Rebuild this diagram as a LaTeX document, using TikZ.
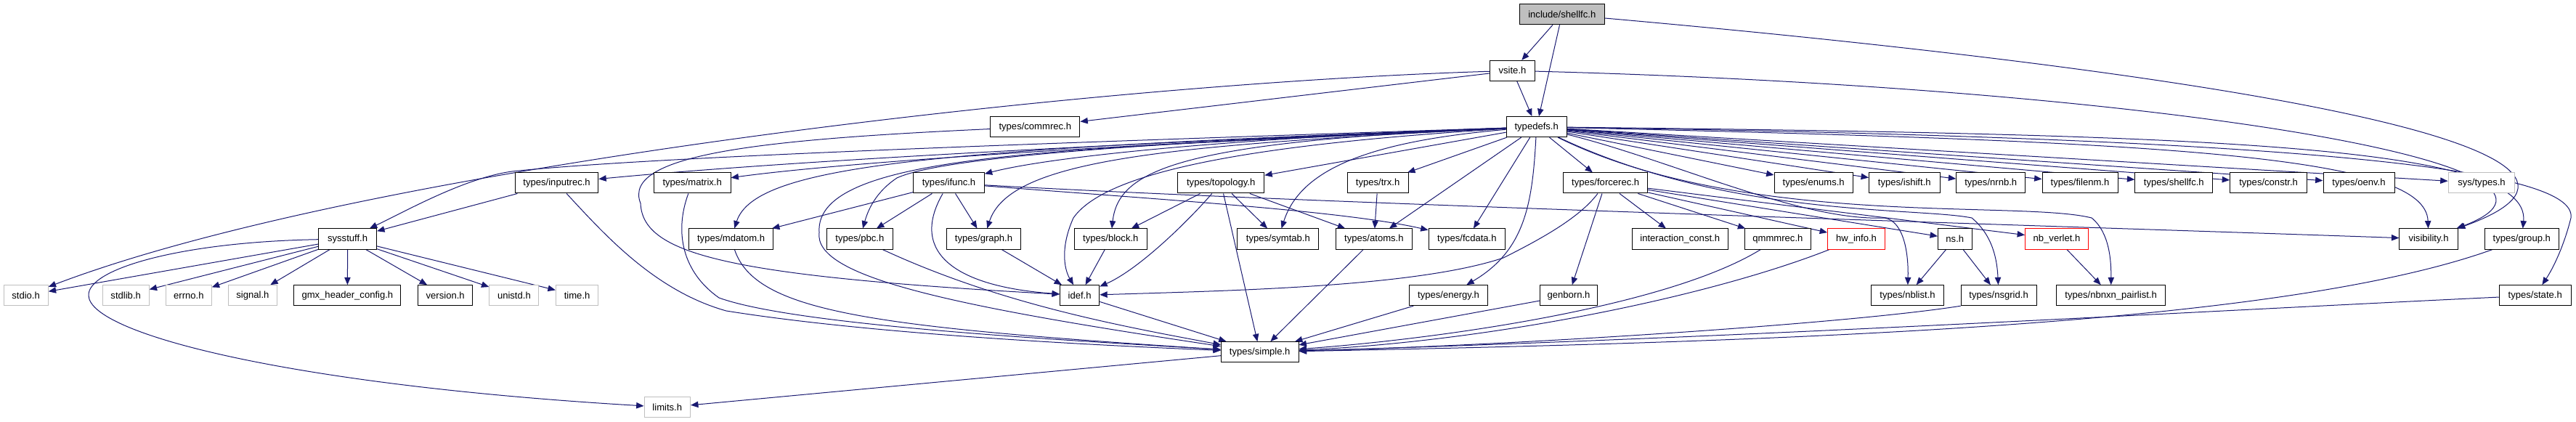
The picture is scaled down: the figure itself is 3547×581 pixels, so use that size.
\documentclass[tikz,border=0pt]{standalone}
\usepackage{fontspec}
\setmainfont{Liberation Sans}
\usetikzlibrary{arrows.meta}
\definecolor{edgeblue}{RGB}{25,25,112}
\definecolor{graybd}{RGB}{191,191,191}
\definecolor{rootfill}{RGB}{191,191,191}
\pgfdeclarelayer{bg}
\pgfsetlayers{bg,main}
\begin{document}
\begin{tikzpicture}[x=0.25mm,y=-0.25mm,
  nd/.style={draw=black, line width=0.25mm, fill=white, minimum height=7mm, inner xsep=0pt, inner ysep=0pt, font=\fontsize{9.3pt}{11pt}\selectfont, text=black},
  grn/.style={nd, draw=graybd},
  rdn/.style={nd, draw=red},
  rootnd/.style={nd, fill=rootfill},
  wd/.style={minimum width=#1*0.25mm},
  conn/.style={draw=edgeblue, line width=0.25mm, -{Triangle[length=2.6mm,width=2.1mm]}}]
\useasboundingbox (0,0) rectangle (3547,581);
% row 1-3
\node[rootnd,wd=116.4] (inc) at (2150.8,19.8) {include/shellfc.h};
\node[nd,wd=61.6] (vsite) at (2082.5,97.3) {vsite.h};
\node[nd,wd=83.1] (typedefs) at (2115.7,174.7) {typedefs.h};
\node[nd,wd=123.2] (commrec) at (1425.3,174.7) {types/commrec.h};
% row 4
\node[nd,wd=114.4] (inputrec) at (766.6,252) {types/inputrec.h};
\node[nd,wd=105.6] (matrix) at (953.2,252) {types/matrix.h};
\node[nd,wd=97.6] (ifunc) at (1306.5,252) {types/ifunc.h};
\node[nd,wd=119.1] (topology) at (1681.2,252) {types/topology.h};
\node[nd,wd=84.2] (trx) at (1897.1,252) {types/trx.h};
\node[nd,wd=116] (forcerec) at (2210.7,252) {types/forcerec.h};
\node[nd,wd=108.4] (enums) at (2497.2,252) {types/enums.h};
\node[nd,wd=97.6] (ishift) at (2622.3,252) {types/ishift.h};
\node[nd,wd=94.9] (nrnb) at (2741.2,252) {types/nrnb.h};
\node[nd,wd=104] (filenm) at (2864,252) {types/filenm.h};
\node[nd,wd=107] (shellfct) at (2993.3,252) {types/shellfc.h};
\node[nd,wd=106] (constr) at (3123.6,252) {types/constr.h};
\node[nd,wd=98] (oenv) at (3248,252) {types/oenv.h};
\node[grn,wd=91.8] (systypes) at (3417,252) {sys/types.h};
% row 5
\node[nd,wd=80] (sysstuff) at (478.6,329) {sysstuff.h};
\node[nd,wd=116] (mdatom) at (1006.6,329) {types/mdatom.h};
\node[nd,wd=91] (pbc) at (1183.9,329) {types/pbc.h};
\node[nd,wd=101.8] (graph) at (1354.5,329) {types/graph.h};
\node[nd,wd=99.9] (block) at (1529.3,329) {types/block.h};
\node[nd,wd=112] (symtab) at (1759.9,329) {types/symtab.h};
\node[nd,wd=105.2] (atoms) at (1891.9,329) {types/atoms.h};
\node[nd,wd=105.7] (fcdata) at (2019.9,329) {types/fcdata.h};
\node[nd,wd=131.9] (interconst) at (2313.2,329) {interaction\_const.h};
\node[nd,wd=90.7] (qmmmrec) at (2447.9,329) {qmmmrec.h};
\node[rdn,wd=78.9] (hwinfo) at (2556,329) {hw\_info.h};
\node[nd,wd=46.6] (ns) at (2691.8,329) {ns.h};
\node[rdn,wd=86.9] (nbverlet) at (2832,329) {nb\_verlet.h};
\node[nd,wd=80.3] (visibility) at (3344,329) {visibility.h};
\node[nd,wd=101.7] (group) at (3472.3,329) {types/group.h};
% row 6
\node[grn,wd=61.2] (stdio) at (35.6,406.7) {stdio.h};
\node[grn,wd=63.9] (stdlib) at (173.2,406.7) {stdlib.h};
\node[grn,wd=62.7] (errno) at (259.9,406.7) {errno.h};
\node[grn,wd=66.6] (signal) at (347.9,406.7) {signal.h};
\node[nd,wd=147] (gmxhc) at (478.4,406.7) {gmx\_header\_config.h};
\node[nd,wd=74.5] (version) at (613.2,406.7) {version.h};
\node[grn,wd=68.1] (unistd) at (707.9,406.7) {unistd.h};
\node[grn,wd=58.5] (time) at (794.6,406.7) {time.h};
\node[nd,wd=54.3] (idef) at (1486.6,406.7) {idef.h};
\node[nd,wd=108.3] (energy) at (1994.5,406.7) {types/energy.h};
\node[nd,wd=78.8] (genborn) at (2160,406.7) {genborn.h};
\node[nd,wd=99.9] (nblist) at (2626.5,406.7) {types/nblist.h};
\node[nd,wd=103.8] (nsgrid) at (2752.1,406.7) {types/nsgrid.h};
\node[nd,wd=149.3] (pairlist) at (2906.6,406.7) {types/nbnxn\_pairlist.h};
\node[nd,wd=99] (state) at (3490.7,406.7) {types/state.h};
% row 7-8
\node[nd,wd=106.7] (simple) at (1734.7,484.7) {types/simple.h};
\node[grn,wd=63.5] (limits) at (918.8,560.8) {limits.h};

\begin{pgfonlayer}{bg}
% include/shellfc.h
\draw[conn] (inc) -- (vsite);
\draw[conn] (inc) -- (typedefs);
\draw[conn] (inc) .. controls (3000,95) and (3700,200) .. (visibility);
% vsite.h
\draw[conn] (vsite) -- (typedefs);
\draw[conn] (vsite) .. controls (1500,115) and (500,230) .. (stdio);
\draw[conn] (vsite) -- (commrec);
\draw[conn] (vsite) .. controls (2950,120) and (3620,225) .. (visibility);
% commrec
\draw[conn] (commrec) .. controls (1050,192) and (855,212) .. (882,280) .. controls (885,350) and (1000,380) .. (idef);
% typedefs.h
\draw[conn] (typedefs) .. controls (1500,195) and (900,215) .. (705,236) .. controls (640,245) and (560,290) .. (sysstuff);
\draw[conn] (typedefs) .. controls (1600,195) and (1100,220) .. (inputrec);
\draw[conn] (typedefs) .. controls (1500,200) and (1150,225) .. (matrix);
\draw[conn] (typedefs) .. controls (1300,205) and (1040,225) .. (mdatom);
\draw[conn] (typedefs) .. controls (1600,195) and (1300,215) .. (1235,245) .. controls (1205,265) and (1195,290) .. (pbc);
\draw[conn] (typedefs) .. controls (1700,190) and (1450,215) .. (ifunc);
\draw[conn] (typedefs) .. controls (1600,200) and (1390,220) .. (graph);
\draw[conn] (typedefs) .. controls (1620,195) and (1540,235) .. (block);
\draw[conn] (typedefs) .. controls (1700,200) and (1520,240) .. (1478,300) .. controls (1460,340) and (1465,370) .. (idef);
\draw[conn] (typedefs) .. controls (1500,205) and (1120,205) .. (1128,320) .. controls (1120,380) and (1300,420) .. (simple);
\draw[conn] (typedefs) -- (topology);
\draw[conn] (typedefs) -- (trx);
\draw[conn] (typedefs) .. controls (1880,195) and (1790,235) .. (symtab);
\draw[conn] (typedefs) -- (atoms);
\draw[conn] (typedefs) -- (fcdata);
\draw[conn] (typedefs) .. controls (2110,280) and (2100,345) .. (energy);
\draw[conn] (typedefs) -- (forcerec);
\draw[conn] (typedefs) -- (enums);
\draw[conn] (typedefs) -- (ishift);
\draw[conn] (typedefs) -- (nrnb);
\draw[conn] (typedefs) -- (filenm);
\draw[conn] (typedefs) -- (shellfct);
\draw[conn] (typedefs) -- (constr);
\draw[conn] (typedefs) -- (oenv);
\draw[conn] (typedefs) -- (systypes);
\draw[conn] (typedefs) .. controls (3000,195) and (3340,215) .. (visibility);
\draw[conn] (typedefs) .. controls (3050,185) and (3485,200) .. (group);
\draw[conn] (typedefs) .. controls (3150,190) and (3550,230) .. (3540,300) .. controls (3530,340) and (3515,370) .. (state);
\draw[conn] (typedefs) .. controls (2300,220) and (2480,305) .. (2595,300) .. controls (2622,305) and (2628,350) .. (nblist);
\draw[conn] (typedefs) .. controls (2380,300) and (2640,285) .. (2715,300) .. controls (2745,325) and (2750,360) .. (nsgrid);
\draw[conn] (typedefs) .. controls (2400,315) and (2780,275) .. (2880,300) .. controls (2905,320) and (2907,360) .. (pairlist);
% sysstuff.h
\draw[conn] (sysstuff) -- (stdio);
\draw[conn] (sysstuff) -- (stdlib);
\draw[conn] (sysstuff) -- (errno);
\draw[conn] (sysstuff) -- (signal);
\draw[conn] (sysstuff) -- (gmxhc);
\draw[conn] (sysstuff) -- (version);
\draw[conn] (sysstuff) -- (unistd);
\draw[conn] (sysstuff) -- (time);
\draw[conn] (sysstuff) .. controls (250,333) and (120,370) .. (122,407) .. controls (124,460) and (400,530) .. (limits);
% row 4 sources
\draw[conn] (inputrec) -- (sysstuff);
\draw[conn] (inputrec) .. controls (830,320) and (900,400) .. (1000,428) .. controls (1200,460) and (1500,475) .. (simple);
\draw[conn] (matrix) .. controls (928,320) and (940,375) .. (990,410) .. controls (1100,450) and (1500,470) .. (simple);
\draw[conn] (ifunc) -- (mdatom);
\draw[conn] (ifunc) -- (pbc);
\draw[conn] (ifunc) .. controls (1250,350) and (1320,395) .. (idef);
\draw[conn] (ifunc) -- (graph);
\draw[conn] (ifunc) .. controls (1600,275) and (1850,290) .. (fcdata);
\draw[conn] (ifunc) .. controls (1800,280) and (2800,310) .. (visibility);
\draw[conn] (topology) -- (block);
\draw[conn] (topology) .. controls (1640,300) and (1570,370) .. (idef);
\draw[conn] (topology) -- (simple);
\draw[conn] (topology) -- (symtab);
\draw[conn] (topology) -- (atoms);
\draw[conn] (trx) -- (atoms);
\draw[conn] (forcerec) -- (genborn);
\draw[conn] (forcerec) .. controls (2175,300) and (2120,330) .. (2070,355) .. controls (1950,395) and (1700,400) .. (idef);
\draw[conn] (forcerec) -- (interconst);
\draw[conn] (forcerec) -- (qmmmrec);
\draw[conn] (forcerec) -- (hwinfo);
\draw[conn] (forcerec) -- (ns);
\draw[conn] (forcerec) -- (nbverlet);
% row 5 sources
\draw[conn] (mdatom) .. controls (1040,430) and (1200,450) .. (simple);
\draw[conn] (pbc) .. controls (1380,420) and (1550,450) .. (simple);
\draw[conn] (graph) -- (idef);
\draw[conn] (block) -- (idef);
\draw[conn] (atoms) -- (simple);
\draw[conn] (qmmmrec) .. controls (2300,420) and (2000,465) .. (simple);
\draw[conn] (hwinfo) .. controls (2350,410) and (2050,470) .. (simple);
\draw[conn] (ns) -- (nblist);
\draw[conn] (ns) -- (nsgrid);
\draw[conn] (nbverlet) -- (pairlist);
\draw[conn] (group) .. controls (3150,445) and (2500,470) .. (simple);
% row 6 sources
\draw[conn] (idef) -- (simple);
\draw[conn] (energy) -- (simple);
\draw[conn] (genborn) -- (simple);
\draw[conn] (nsgrid.south west) .. controls (2550,445) and (2100,475) .. (simple);
\draw[conn] (state) .. controls (3000,430) and (2400,465) .. (simple);
% simple
\draw[conn] (simple) -- (limits);
\end{pgfonlayer}
\end{tikzpicture}
\end{document}
